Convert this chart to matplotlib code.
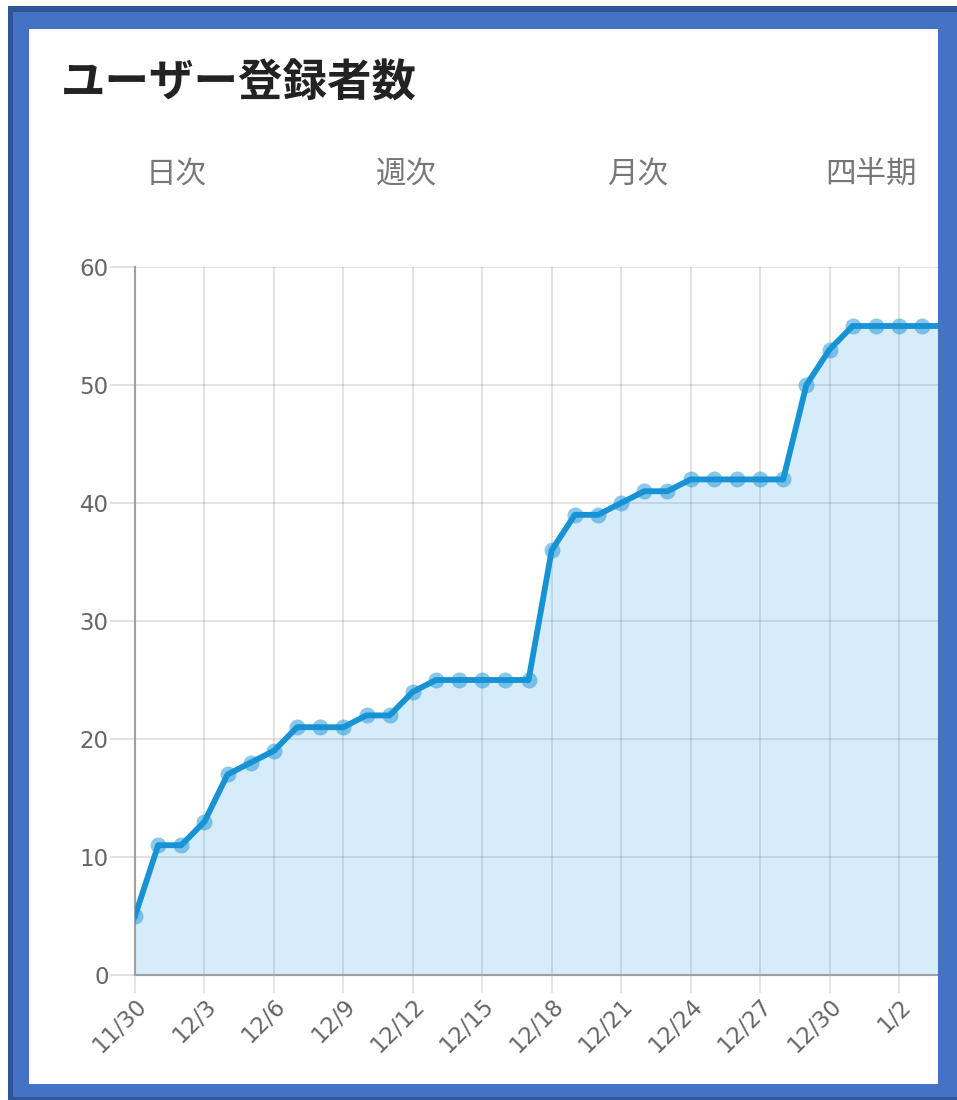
import matplotlib
matplotlib.use("Agg")
import matplotlib.pyplot as plt
from matplotlib.patches import Rectangle

# ---- data ----
dates = ["11/30", "12/1", "12/2", "12/3", "12/4", "12/5", "12/6", "12/7", "12/8",
         "12/9", "12/10", "12/11", "12/12", "12/13", "12/14", "12/15", "12/16",
         "12/17", "12/18", "12/19", "12/20", "12/21", "12/22", "12/23", "12/24",
         "12/25", "12/26", "12/27", "12/28", "12/29", "12/30", "12/31", "1/1",
         "1/2", "1/3", "1/4", "1/5"]
users = [5, 11, 11, 13, 17, 18, 19, 21, 21, 21, 22, 22, 24, 25, 25, 25, 25, 25,
         36, 39, 39, 40, 41, 41, 42, 42, 42, 42, 42, 50, 53, 55, 55, 55, 55, 55]
y_ticks = [0, 10, 20, 30, 40, 50, 60]
title = "ユーザー登録者数"
tabs = ["日次", "週次", "月次", "四半期"]

W, H = 957, 1100
fig = plt.figure(figsize=(W / 100, H / 100), dpi=100)
fig.patch.set_facecolor("white")

def fx(px):
    return px / W

def fy(py):
    return 1 - py / H

# axes placement (pixels)
x0_px, y0_px, ytop_px = 135, 975, 267
px_per_day = 23.15
n_span = 37
ax = fig.add_axes([fx(x0_px), fy(y0_px), (n_span * px_per_day) / W, (y0_px - ytop_px) / H])

xs = list(range(len(users)))
line_c = "#1793d5"
ax.fill_between(xs, 0, users, color=(54/255, 162/255, 235/255, 0.2), linewidth=0, zorder=1)
ax.plot(xs, users, color=line_c, linewidth=4.2, zorder=3, solid_joinstyle="round")
ax.plot(xs, users, linestyle="none", marker="o", markersize=11.5,
        markerfacecolor=(23/255, 147/255, 213/255, 0.5), markeredgewidth=0, zorder=4)

ax.set_xlim(0, n_span)
ax.set_ylim(0, 60)
ax.set_yticks(y_ticks)
ax.set_yticklabels([str(v) for v in y_ticks], fontsize=16.5, color="#666666",
                   family="DejaVu Sans")
tick_idx = list(range(0, len(dates), 3))
ax.set_xticks(tick_idx)
ax.set_xticklabels([dates[i] for i in tick_idx], rotation=45, ha="right", va="top",
                   rotation_mode="anchor", fontsize=16.5, color="#666666",
                   family="DejaVu Sans")
ax.tick_params(axis="y", length=18, width=1.2, color="#dddddd", pad=1)
ax.tick_params(axis="x", length=13, width=1.2, color="#e0e0e0", pad=1)

ax.grid(True, color="#000000", alpha=0.12, linewidth=1.3)
ax.set_axisbelow(True)
for s in ["top", "right"]:
    ax.spines[s].set_visible(False)
for s in ["left", "bottom"]:
    ax.spines[s].set_color("#a0a0a0")
    ax.spines[s].set_linewidth(1.5)
ax.set_facecolor("none")

# title and tabs
fig.text(fx(61), fy(84), title, fontsize=32, fontweight="bold", color="#222222",
         family=["Noto Sans CJK JP", "DejaVu Sans"], ha="left", va="center")
tab_x = [176, 406, 638, 871]
for t, x in zip(tabs, tab_x):
    fig.text(fx(x), fy(174), t, fontsize=22, color="#777777",
             family=["Noto Sans CJK JP", "DejaVu Sans"], ha="center", va="center")

# frame border (drawn over axes)
blue = "#4472c4"
dark = "#2f5597"
def rect(x, y, w, h, c, z=20):
    fig.add_artist(Rectangle((fx(x), fy(y + h)), w / W, h / H, transform=fig.transFigure,
                             facecolor=c, edgecolor="none", zorder=z))

rect(8, 6, W - 8, 6, dark)
rect(8, 6, 5, H - 6, dark)
rect(13, 12, W - 13, 17, blue)
rect(13, 12, 16, H - 12, blue)
rect(938, 12, W - 938, H - 12, blue)
rect(13, 1084, W - 13, 13, blue)
rect(8, 1097, W - 8, 3, dark)

fig.savefig("out.png", dpi=100)
